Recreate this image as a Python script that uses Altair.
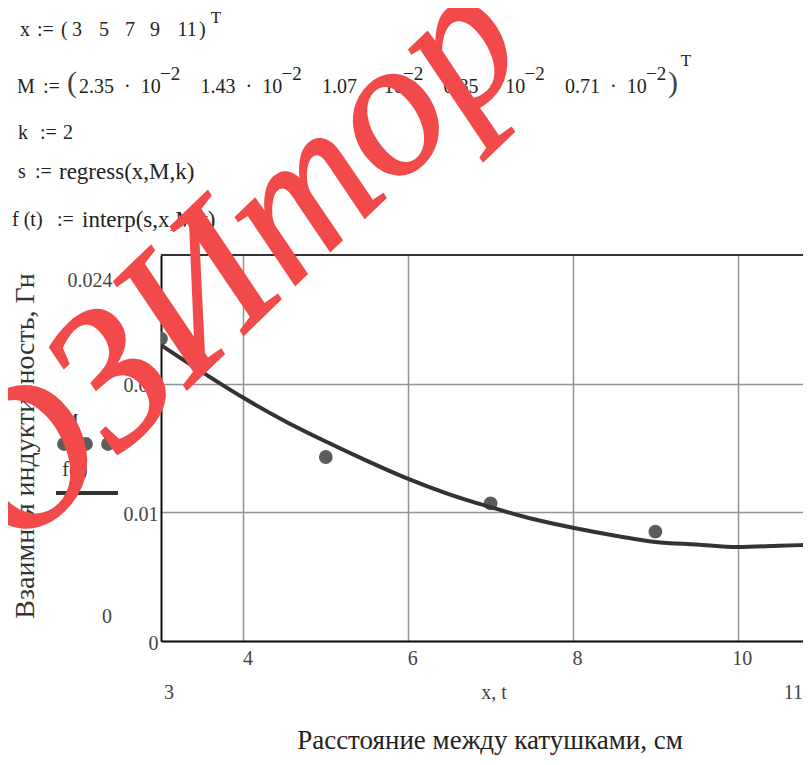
import altair as alt
import pandas as pd

# ---- data ----
x_vals = [3, 5, 7, 9, 11]
M_vals = [0.0235, 0.0143, 0.0107, 0.0085, 0.0071]
t_vals = [3, 3.5, 4, 4.5, 5, 5.5, 6, 6.5, 7, 7.5, 8, 8.5, 9, 9.5, 10, 10.5, 11]
f_vals = [0.0230, 0.0209, 0.0189, 0.0171, 0.0155, 0.0140, 0.0126, 0.0114, 0.0104,
          0.0095, 0.0088, 0.0082, 0.0077, 0.0075, 0.0073, 0.0074, 0.0075]
x_ticks = [4, 6, 8, 10]
y_ticks = [0, 0.01, 0.02]
x_text = ["3", "5", "7", "9", "11"]
M_text = ["2.35", "1.43", "1.07", "0.85", "0.71"]

SERIF = "Liberation Serif"
NB = "\u00a0"
W, H = 642, 386
OX, OY = 161, 255          # page position of the plot origin
PX_PER_UNIT = 82.4

pts = pd.DataFrame({"x": x_vals, "M": M_vals})
curve = pd.DataFrame({"t": t_vals, "f": f_vals})
one = pd.DataFrame({"a": [0]})

xs = alt.Scale(domain=[3, 3 + W / PX_PER_UNIT], nice=False, zero=False)
ys = alt.Scale(domain=[0, 0.03], nice=False, zero=False)

x_axis = alt.Axis(values=x_ticks, grid=True, gridColor="#939393", gridWidth=1.5,
                  domainColor="#111", domainWidth=2, ticks=False, title=None, format="d",
                  labelFont=SERIF, labelFontSize=20, labelColor="#444",
                  labelPadding=7, labelOffset=4, labelFlush=False)
y_axis = alt.Axis(values=y_ticks, grid=True, gridColor="#939393", gridWidth=1.5,
                  domainColor="#111", domainWidth=2, ticks=False, title=None,
                  format=".2~f", labelFont=SERIF, labelFontSize=20, labelColor="#444",
                  labelPadding=3, labelOffset=2, labelFlush=False)

points = alt.Chart(pts).mark_circle(size=190, color="#5c5c5c", opacity=1, clip=True).encode(
    x=alt.X("x:Q", scale=xs, axis=x_axis),
    y=alt.Y("M:Q", scale=ys, axis=y_axis),
)
line = alt.Chart(curve).mark_line(color="#333333", strokeWidth=4, interpolate="monotone", clip=True).encode(
    x=alt.X("t:Q", scale=xs),
    y=alt.Y("f:Q", scale=ys),
)
top_border = alt.Chart(one).mark_rule(color="#333", strokeWidth=2).encode(
    x=alt.value(0), x2=alt.value(W), y=alt.value(0)
)


def label(txt, px, py, size=20, align="left", angle=0, color="#222", style="normal", stroke=0):
    kw = dict(text=txt, font=SERIF, fontSize=size, align=align, baseline="middle",
              angle=angle, color=color, fontStyle=style)
    if stroke:
        kw.update(stroke=color, strokeWidth=stroke)
    return alt.Chart(one).mark_text(**kw).encode(x=alt.value(px - OX), y=alt.value(py - OY))


layers = [points, line, top_border]

# formulas above the plot
layers.append(label("x", 20, 30))
layers.append(label(":=", 37, 30))
layers.append(label("(", 61, 30))
for cx, s in zip([77, 104, 130, 155, 187], x_text):
    layers.append(label(s, cx, 30, align="center"))
layers.append(label(")", 199, 30))
layers.append(label("T", 216, 18, size=17, align="center"))

layers.append(label("M", 17, 87))
layers.append(label(":=", 43, 87))
layers.append(label("(", 67, 83, size=30, color="#444"))
for i, v in enumerate(M_text):
    x0 = 79 + i * 121.5
    layers.append(label(v + NB * 2 + "·" + NB * 2 + "10", x0, 87))
    layers.append(label("−2", x0 + 81, 74, size=19))
layers.append(label(")", 668, 83, size=30, color="#444"))
layers.append(label("T", 686, 61, size=17, align="center"))

layers.append(label("k", 18, 133))
layers.append(label(":=", 40, 133))
layers.append(label("2", 68, 133, align="center"))

layers.append(label("s", 18, 172))
layers.append(label(":=", 35, 172))
layers.append(label("regress(x,M,k)", 59, 172, size=23))

layers.append(label("f" + NB + "(t)", 12, 220))
layers.append(label(":=", 57, 220))
layers.append(label("interp(s,x,M,t)", 82, 220, size=23))

# Mathcad-style limit labels
layers.append(label("0.024", 90, 281, align="center", color="#444"))
layers.append(label("0", 107, 617, align="center", color="#444"))
layers.append(label("3", 169, 693, align="center", color="#444"))
layers.append(label("x, t", 494, 693, align="center", color="#444"))
layers.append(label("11", 803, 693, align="right", color="#444"))

# legend
layers.append(label("M", 70, 422, align="center", color="#333"))
for cx in [64, 86, 108]:
    layers.append(alt.Chart(one).mark_circle(size=190, color="#5c5c5c", opacity=1).encode(
        x=alt.value(cx - OX), y=alt.value(444 - OY)))
layers.append(label("f(t)", 75, 470, align="center", color="#333"))
layers.append(alt.Chart(one).mark_rule(color="#333", strokeWidth=4).encode(
    x=alt.value(56 - OX), x2=alt.value(118 - OX), y=alt.value(493 - OY)))

# axis titles
layers.append(label("Взаимная индуктивность, Гн", 26, 446, size=28, align="center", angle=270, color="#333"))
layers.append(label("Расстояние между катушками, см", 490, 741, size=27, align="center", color="#222"))

# watermark
layers.append(label("ОЗИтор", 234, 262, size=196, align="center", angle=316,
                    color="#f24a4a", style="italic", stroke=2))

chart = alt.layer(*layers).properties(
    width=W, height=H,
    padding={"left": OX - 8, "top": OY - 8, "right": 0, "bottom": 749 - (OY - 8) - H},
    autosize=alt.AutoSizeParams(type="none"),
).configure_view(stroke=None).configure(background="white")

chart.save("out.html", embed_options={"renderer": "svg", "actions": False})
